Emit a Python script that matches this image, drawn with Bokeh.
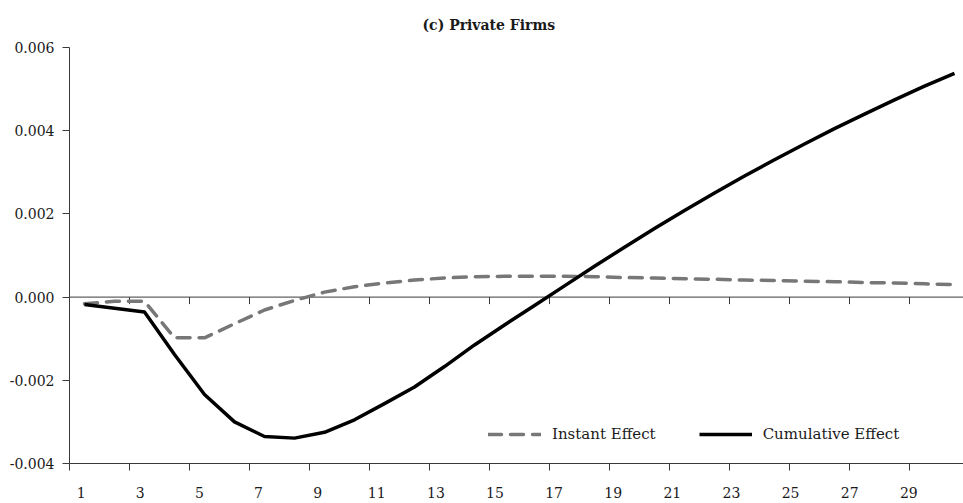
import math
from bokeh.plotting import figure
from bokeh.models import Range1d, FixedTicker, LinearAxis, Span, Legend, LegendItem
from bokeh.embed import file_html
from bokeh.resources import INLINE

# ---------------- data ----------------
categories = list(range(1, 31))
instant_effect = [-0.00016, -0.00010, -0.00010, -0.00098, -0.00098, -0.00064,
                  -0.00031, -0.00008, 0.00012, 0.00025, 0.00034, 0.00041,
                  0.00046, 0.00049, 0.00050, 0.00050, 0.00050, 0.00049,
                  0.00047, 0.00046, 0.00044, 0.00043, 0.00041, 0.00040,
                  0.00038, 0.00037, 0.00035, 0.00034, 0.00032, 0.00030]
cumulative_effect = [-0.00018, -0.00027, -0.00036, -0.00138, -0.00234, -0.00300,
                     -0.00335, -0.00339, -0.00325, -0.00295, -0.00256, -0.00216,
                     -0.00167, -0.00115, -0.00067, -0.00020, 0.00027, 0.00074,
                     0.00120, 0.00165, 0.00208, 0.00250, 0.00291, 0.00330,
                     0.00368, 0.00405, 0.00440, 0.00474, 0.00507, 0.00538]
x_label_values = categories[::2]
x_tick_labels = [str(c) for c in x_label_values]
y_ticks = [-0.004, -0.002, 0.0, 0.002, 0.004, 0.006]
y_tick_labels = ["-0.004", "-0.002", "0.000", "0.002", "0.004", "0.006"]
series_names = ["Instant Effect", "Cumulative Effect"]
title_text = "(c) Private Firms"

FONT = "DejaVu Serif"
AXIS_COLOR = "#3a3a3a"
TEXT_COLOR = "#1a1a1a"

p = figure(width=963, height=503, output_backend="svg", toolbar_location=None,
           x_range=Range1d(0.5, 30.3), y_range=Range1d(-0.004, 0.006),
           x_axis_location=None, title=title_text,
           min_border_left=69, min_border_right=0, min_border_top=47,
           min_border_bottom=40)
p.extra_x_ranges = {"labels": Range1d(0.604, 30.851)}
p.outline_line_color = None
p.grid.visible = False
p.background_fill_color = "white"
p.border_fill_color = "white"

# title
p.title.text_font = FONT
p.title.text_font_style = "bold"
p.title.text_font_size = "14px"
p.title.text_color = TEXT_COLOR
p.title.align = "left"
p.title.offset = 353
p.title.vertical_align = "top"
p.title.standoff = 26

# y axis
ya = p.yaxis[0]
ya.ticker = FixedTicker(ticks=y_ticks)
ya.major_label_overrides = {t: l for t, l in zip(y_ticks, y_tick_labels)}
ya.axis_line_color = AXIS_COLOR
ya.major_tick_line_color = AXIS_COLOR
ya.major_tick_out = 7
ya.major_tick_in = 0
ya.minor_tick_line_color = None
ya.major_label_standoff = 8
ya.major_label_text_font = FONT
ya.major_label_text_font_size = "14px"
ya.major_label_text_color = TEXT_COLOR

# bottom axis: ticks at category boundaries
boundaries = [c - 0.5 for c in x_label_values]
xa = LinearAxis(ticker=FixedTicker(ticks=boundaries))
xa.axis_line_color = AXIS_COLOR
xa.major_tick_line_color = AXIS_COLOR
xa.major_tick_out = 7
xa.major_tick_in = 0
xa.minor_tick_line_color = None
xa.major_label_text_font_size = "0px"
xa.major_label_standoff = 0
xa.major_label_overrides = {b: "" for b in boundaries}
p.add_layout(xa, "below")

# bottom category labels
xl = LinearAxis(ticker=FixedTicker(ticks=x_label_values), x_range_name="labels")
xl.major_label_overrides = {c: l for c, l in zip(x_label_values, x_tick_labels)}
xl.axis_line_color = None
xl.major_tick_line_color = None
xl.minor_tick_line_color = None
xl.major_tick_out = 0
xl.major_tick_in = 0
xl.major_label_standoff = 16
xl.major_label_text_font = FONT
xl.major_label_text_font_size = "14px"
xl.major_label_text_color = TEXT_COLOR
p.add_layout(xl, "below")

# zero line with ticks
zero = Span(location=0, dimension="width", line_color=AXIS_COLOR, line_width=1, level="underlay")
p.add_layout(zero)
zt = p.ray(x=boundaries[1:], y=[0] * len(boundaries[1:]), length=7, length_units="screen",
           angle=-math.pi / 2, line_color=AXIS_COLOR, line_width=1)
zt.level = "underlay"

r_inst = p.line(categories, instant_effect, line_color="#777777", line_width=3.5,
                line_dash="13 9", line_cap="round", line_join="round")
r_cum = p.line(categories, cumulative_effect, line_color="black", line_width=3.5,
               line_join="round")

legend = Legend(items=[LegendItem(label=series_names[0], renderers=[r_inst]),
                       LegendItem(label=series_names[1], renderers=[r_cum])],
                orientation="horizontal", location=(419, 19),
                border_line_color=None, background_fill_alpha=0,
                glyph_width=53, label_standoff=11, spacing=43, padding=0, margin=0,
                label_text_font=FONT, label_text_font_size="15px",
                label_text_color=TEXT_COLOR)
p.add_layout(legend)

open("out.html", "w").write(file_html(p, INLINE))
